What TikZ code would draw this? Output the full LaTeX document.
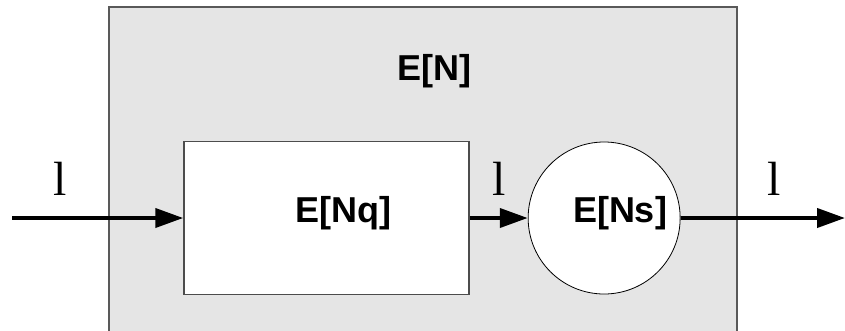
\documentclass[tikz,border=0pt]{standalone}
\usepackage{fontspec}
\setmainfont{Liberation Serif}
\setsansfont{Liberation Sans}
\usetikzlibrary{arrows.meta,positioning}

\begin{document}
\begin{tikzpicture}[x=1pt,y=-1pt,
  flow/.style={-{Triangle[length=28pt,width=19pt]},line width=4pt},
  system/.style={draw=black!65,line width=1.5pt,fill=gray!20,
    minimum width=628pt,minimum height=360pt,inner sep=0pt},
  queue/.style={draw=black!70,line width=1.5pt,fill=white,
    minimum width=285pt,minimum height=153pt,inner sep=0pt},
  server/.style={circle,draw,line width=0.8pt,fill=white,
    minimum size=152pt,inner sep=0pt},
  big/.style={font=\sffamily\bfseries\fontsize{36}{40}\selectfont,
    inner sep=0pt,anchor=base},
  rate/.style={font=\fontsize{48}{50}\selectfont,inner sep=0pt}]

  \clip (0,0) rectangle (845,330);

  \node[system] (sys) at (423,187) {};
  \node[big] (sysl) at (434,80) {E[N]};

  \node[queue] (q) at (326.5,218) {};
  \node[big] (ql) at (343,222) {E[Nq]};
  \node[server] (s) [right=58pt of q] {};
  \node[big] (sl) at (620,222) {E[Ns]};

  \coordinate (in) at (12,218);
  \coordinate (out) at (845,218);

  \draw[flow] (in) -- node[rate,above=21pt,pos=0.28] {l} (q);
  \draw[flow] (q) -- node[rate,above=21pt,pos=0.5] {l} (s);
  \draw[flow] (s) -- node[rate,above=21pt,pos=0.57] {l} (out);
\end{tikzpicture}
\end{document}
